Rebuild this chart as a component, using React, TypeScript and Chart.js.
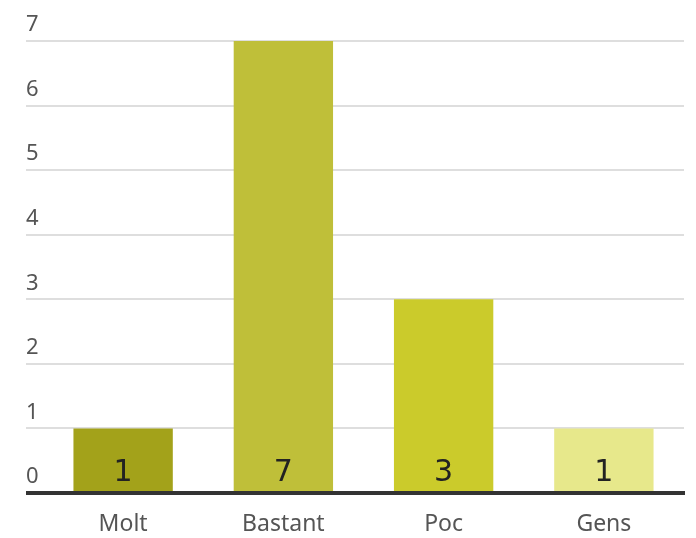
import React, { useEffect, useRef } from "react";
import { Chart, registerables } from "chart.js";

Chart.register(...registerables);

const categories = ["Molt", "Bastant", "Poc", "Gens"];
const values = [1, 7, 3, 1];
const barColors = ["#a3a21a", "#bfbf39", "#cbcb2b", "#e7e88b"];
const yTicks = [0, 1, 2, 3, 4, 5, 6, 7];

const FONT = "'Noto Sans', sans-serif";

const overlayPlugin = {
  id: "overlay",
  afterDatasetsDraw(chart: any) {
    const ctx = chart.ctx;
    const y = chart.scales.y;
    const area = chart.chartArea;
    const y0 = y.getPixelForValue(0);
    ctx.save();
    const meta = chart.getDatasetMeta(0);
    ctx.font = "30px 'DejaVu Sans', sans-serif";
    ctx.fillStyle = "#222";
    ctx.textAlign = "center";
    ctx.textBaseline = "alphabetic";
    meta.data.forEach((bar: any, i: number) => {
      ctx.fillText(String(values[i]), bar.x, y0 - 12);
    });
    ctx.strokeStyle = "#333";
    ctx.lineWidth = 4;
    ctx.beginPath();
    ctx.moveTo(area.left - 17, y0);
    ctx.lineTo(area.right + 1, y0);
    ctx.stroke();
    ctx.restore();
  },
};

export default function App() {
  const ref = useRef<HTMLCanvasElement | null>(null);
  useEffect(() => {
    if (!ref.current) return;
    const chart = new Chart(ref.current, {
      type: "bar",
      data: {
        labels: categories,
        datasets: [
          {
            data: values,
            backgroundColor: barColors,
            borderWidth: 0,
            barPercentage: 0.62,
            categoryPercentage: 1,
          },
        ],
      },
      options: {
        animation: false,
        responsive: true,
        maintainAspectRatio: false,
        layout: { padding: { top: 41, left: 26, right: 12, bottom: 0 } },
        plugins: { legend: { display: false }, tooltip: { enabled: false } },
        scales: {
          x: {
            grid: { display: false, drawTicks: false },
            border: { display: false },
            afterFit: (scale: any) => {
              scale.height = 45;
            },
            ticks: { font: { family: FONT, size: 23 }, color: "#555", padding: 18 },
          },
          y: {
            min: 0,
            max: 7,
            afterBuildTicks: (scale: any) => {
              scale.ticks = yTicks.map((v) => ({ value: v }));
            },
            afterFit: (scale: any) => {
              scale.width = 17;
            },
            grid: {
              color: (c: any) => (c.tick && c.tick.value === 0 ? "rgba(0,0,0,0)" : "#dedede"),
              lineWidth: 2,
              tickLength: 17,
              drawTicks: true,
            },
            border: { display: false },
            ticks: {
              font: { family: FONT, size: 22 },
              color: "#555",
              crossAlign: "far",
              labelOffset: -16,
              padding: 0,
            },
          },
        },
      },
      plugins: [overlayPlugin],
    });
    return () => chart.destroy();
  }, []);
  return (
    <div style={{ position: "fixed", left: 0, top: 0, width: 696, height: 538 }}>
      <canvas ref={ref} />
    </div>
  );
}
